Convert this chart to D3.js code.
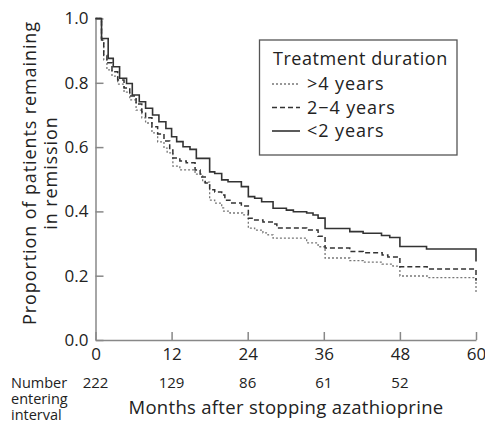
<!DOCTYPE html>
<html>
<head>
<meta charset="utf-8">
<script src="https://cdn.jsdelivr.net/npm/d3@7"></script>
<style>
  body { margin: 0; background: #fff; }
  text { font-family: "Open Sans", Lato, sans-serif; fill: #222; }
</style>
</head>
<body>
<div id="chart"></div>
<script>
// Kaplan-Meier estimates (months, proportion in remission)
const shortMonths = [0, 0.95, 2, 2.8, 3.8, 4.9, 5.8, 6.9, 7.9, 9, 10, 11.1, 12, 12.8, 13.8, 14.9, 15.9, 18, 18.8, 19.9, 20.9, 23, 24.1, 25.1, 26.2, 28, 30.1, 31.2, 33.3, 34.3, 35.1, 36.2, 40.1, 42.2, 45.1, 46.4, 48, 52.2, 60];
const shortSurv = [1, 0.938, 0.876, 0.850, 0.814, 0.798, 0.762, 0.741, 0.721, 0.700, 0.679, 0.658, 0.632, 0.617, 0.601, 0.593, 0.565, 0.523, 0.518, 0.498, 0.492, 0.477, 0.446, 0.441, 0.430, 0.410, 0.404, 0.399, 0.395, 0.389, 0.379, 0.347, 0.337, 0.332, 0.325, 0.319, 0.291, 0.283, 0.244];

const midMonths = [0, 0.95, 1.3, 1.8, 2.6, 3.5, 4.5, 5.4, 6.4, 7.3, 7.9, 8.9, 9.8, 10.8, 11.7, 12.2, 13.3, 14.3, 15.7, 16.5, 17.3, 18, 18.8, 19.9, 20.4, 21.2, 23, 24.1, 25.1, 26.4, 28, 28.6, 33.3, 35.1, 36.2, 40.1, 42.2, 45.2, 46.1, 48, 52.3, 60];
const midSurv = [1, 0.933, 0.886, 0.862, 0.834, 0.809, 0.784, 0.759, 0.734, 0.709, 0.691, 0.663, 0.641, 0.619, 0.591, 0.566, 0.557, 0.551, 0.529, 0.507, 0.488, 0.467, 0.460, 0.451, 0.435, 0.426, 0.417, 0.379, 0.373, 0.367, 0.361, 0.348, 0.342, 0.323, 0.286, 0.275, 0.271, 0.264, 0.258, 0.228, 0.221, 0.184];

const longMonths = [0, 0.95, 1.3, 1.8, 2.6, 3.5, 4.5, 5.4, 6.4, 7.3, 7.9, 8.9, 9.8, 10.8, 11.3, 12.2, 13.3, 15.7, 16.9, 18, 18.8, 19.9, 20.2, 21.2, 23.2, 24.1, 25.1, 26.4, 27.2, 28, 33.3, 35.1, 36.2, 40.1, 42.2, 45.2, 46.9, 48, 52.3, 60];
const longSurv = [1, 0.933, 0.871, 0.840, 0.821, 0.796, 0.771, 0.747, 0.715, 0.691, 0.675, 0.644, 0.616, 0.597, 0.582, 0.541, 0.529, 0.516, 0.491, 0.435, 0.426, 0.411, 0.401, 0.395, 0.389, 0.348, 0.342, 0.333, 0.327, 0.317, 0.302, 0.290, 0.255, 0.247, 0.242, 0.236, 0.230, 0.199, 0.194, 0.149];

const xTicks = [0, 12, 24, 36, 48, 60];
const yTicks = [0, 0.2, 0.4, 0.6, 0.8, 1.0];
const riskMonths = [0, 12, 24, 36, 48];
const riskCounts = [222, 129, 86, 61, 52];
const riskLabel = ['Number', 'entering', 'interval'];

const groups = [
  { label: '>4 years', months: longMonths, surv: longSurv, color: '#777', dash: '2,2', width: 1.3 },
  { label: '2\u22124 years', months: midMonths, surv: midSurv, color: '#333', dash: '5,3', width: 1.5 },
  { label: '<2 years', months: shortMonths, surv: shortSurv, color: '#333', dash: null, width: 1.6 },
];

const W = 485, H = 421;
const svg = d3.select('#chart').append('svg')
  .attr('width', W)
  .attr('height', H);

const x = d3.scaleLinear().domain([0, 60]).range([95.5, 476]);
const y = d3.scaleLinear().domain([0, 1]).range([340, 18.5]);

// Axes (ticks point inward)
const yAxis = svg.append('g')
  .attr('transform', `translate(${x(0)},0)`)
  .call(d3.axisLeft(y).tickValues(yTicks).tickFormat(d3.format('.1f'))
    .tickSizeInner(-8).tickSizeOuter(0).tickPadding(7));

const xAxis = svg.append('g')
  .attr('transform', `translate(0,${y(0)})`)
  .call(d3.axisBottom(x).tickValues(xTicks).tickFormat(d3.format('d'))
    .tickSizeInner(-8).tickSizeOuter(0).tickPadding(8));

[yAxis, xAxis].forEach(a => {
  a.select('.domain').attr('stroke', '#888').attr('stroke-width', 1.5);
  a.selectAll('.tick line').attr('stroke', '#888').attr('stroke-width', 1.5);
  a.selectAll('.tick text').attr('font-size', '17px').attr('font-family', '"Open Sans", sans-serif').attr('fill', '#222');
});

// Survival curves
const line = d3.line()
  .x(d => x(d[0]))
  .y(d => y(d[1]))
  .curve(d3.curveStepAfter);

groups.forEach(g => {
  svg.append('path')
    .datum(d3.zip(g.months, g.surv))
    .attr('fill', 'none')
    .attr('stroke', g.color)
    .attr('stroke-width', g.width)
    .attr('stroke-dasharray', g.dash)
    .attr('d', line);
});

// Legend
const lg = svg.append('g');
lg.append('rect')
  .attr('x', 259.5).attr('y', 40)
  .attr('width', 197.5).attr('height', 115)
  .attr('fill', '#fff')
  .attr('stroke', '#555')
  .attr('stroke-width', 1.3);
lg.append('text')
  .attr('x', 273).attr('y', 65)
  .attr('font-size', '18px')
  .attr('letter-spacing', '0.55px')
  .text('Treatment duration');
groups.forEach((g, i) => {
  const ly = 84 + i * 23.5;
  lg.append('line')
    .attr('x1', 272).attr('x2', 300)
    .attr('y1', ly).attr('y2', ly)
    .attr('stroke', g.color)
    .attr('stroke-width', g.width)
    .attr('stroke-dasharray', g.dash);
  lg.append('text')
    .attr('x', 307).attr('y', ly + 6)
    .attr('font-size', '18px')
    .attr('letter-spacing', '0.9px')
    .text(g.label);
});

// Y label
const yl = svg.append('text')
  .attr('transform', 'rotate(-90)')
  .attr('text-anchor', 'middle')
  .attr('font-size', '18px')
  .attr('letter-spacing', '0.9px');
yl.append('tspan').attr('x', -173).attr('y', 36).text('Proportion of patients remaining');
yl.append('tspan').attr('x', -173).attr('y', 57).text('in remission');

// Number at risk
const rl = svg.append('text')
  .attr('font-size', '14.5px');
riskLabel.forEach((t, i) => {
  rl.append('tspan').attr('x', 11).attr('y', 388 + i * 15.8).text(t);
});

svg.selectAll('.risk')
  .data(d3.zip(riskMonths, riskCounts))
  .join('text')
  .attr('class', 'risk')
  .attr('x', d => x(d[0]))
  .attr('y', 388)
  .attr('text-anchor', 'middle')
  .attr('font-size', '15px')
  .text(d => d[1]);

// X label
svg.append('text')
  .attr('x', 286).attr('y', 414)
  .attr('text-anchor', 'middle')
  .attr('font-size', '18.5px')
  .attr('letter-spacing', '0.3px')
  .text('Months after stopping azathioprine');
</script>
</body>
</html>
